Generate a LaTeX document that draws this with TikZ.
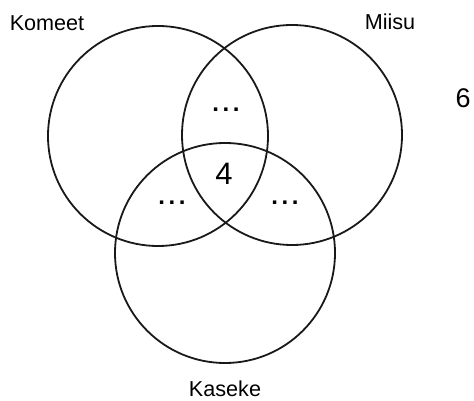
\documentclass[tikz,border=0pt]{standalone}
\usepackage{fontspec}
\setmainfont{Liberation Sans}
\usetikzlibrary{positioning}
\newcommand{\gapdots}{.\hspace{1.8pt}.\hspace{1.8pt}.}

\begin{document}
\begin{tikzpicture}[
    x=0.5pt, y=0.5pt,
    set/.style={circle, draw=black!90, line width=0.9pt, minimum size=110pt, inner sep=0pt},
    setlabel/.style={font=\fontsize{10.8}{12}\selectfont},
    count/.style={font=\fontsize{15.5}{18}\selectfont},
    rest/.style={font=\bfseries\fontsize{12}{14}\selectfont}
]
\useasboundingbox (0,0) rectangle (474,400);

% === SETS ===
\node[set] (komeet) at (158,264) {};
\node[set] (miisu) at (292,265) {};
\node[set] (kaseke) at (225,147) {};

% === LABELS ===
\node[setlabel] (komeetlabel) at (47,377) {Komeet};
\node[setlabel] (miisulabel) at (390,378) {Miisu};
\node[setlabel] (kasekelabel) at (225,11) {Kaseke};

% === COUNTS ===
\node[count] (all) at (224,226) {4};
\node[count, font=\fontsize{13.5}{16}\selectfont] (none) at (463,302) {6};
\node[rest] (km) at (226,290) {\gapdots};
\node[rest] (kk) at (172,197) {\gapdots};
\node[rest] (mk) at (285,197) {\gapdots};

\end{tikzpicture}
\end{document}
